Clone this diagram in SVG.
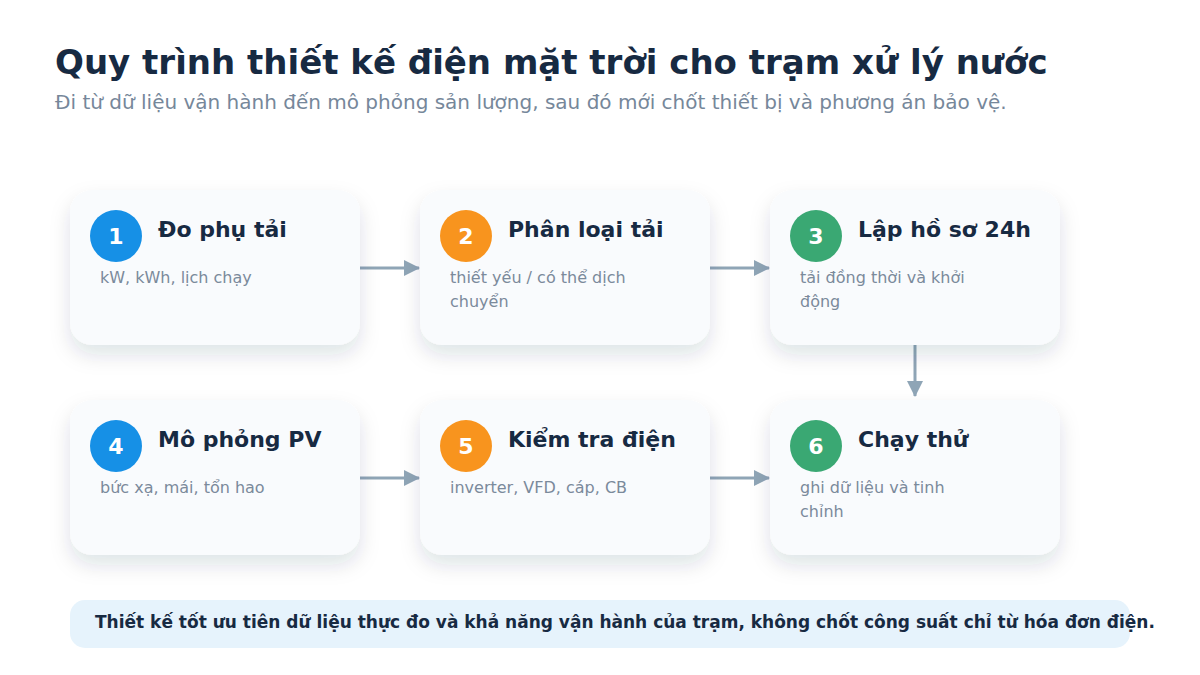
<svg xmlns="http://www.w3.org/2000/svg" width="1200" height="675" viewBox="0 0 1200 675">
<defs>
<filter id="sh" x="-20%" y="-20%" width="140%" height="160%">
<feDropShadow dx="0" dy="10" stdDeviation="10" flood-color="#0f2a44" flood-opacity="0.13"/>
</filter>
<marker id="ah2" markerWidth="16" markerHeight="16" refX="15" refY="8" orient="auto" markerUnits="userSpaceOnUse" viewBox="0 0 16 16">
<path d="M0,0 L16,8 L0,16 Z" fill="#8fa5b6"/>
</marker>
</defs>
<style>
.card{fill:#f9fbfd;filter:url(#sh);}
.num{font-family:"DejaVu Sans",sans-serif;font-weight:bold;font-size:22px;fill:#ffffff;text-anchor:middle;}
.ttl{font-family:"DejaVu Sans",sans-serif;font-weight:bold;font-size:22px;fill:#172a42;}
.dsc{font-family:"DejaVu Sans",sans-serif;font-size:16px;fill:#7b8a9b;}
.con{stroke:#8fa5b6;stroke-width:3;fill:none;}
</style>
<rect width="1200" height="675" fill="#ffffff"/>
<text x="55" y="74" font-family="DejaVu Sans, sans-serif" font-weight="bold" font-size="34" fill="#172a42">Quy trình thiết kế điện mặt trời cho trạm xử lý nước</text>
<text x="55" y="109" font-family="DejaVu Sans, sans-serif" font-size="20" fill="#76879a">Đi từ dữ liệu vận hành đến mô phỏng sản lượng, sau đó mới chốt thiết bị và phương án bảo vệ.</text>

<g id="connectors">
<line class="con" x1="360" y1="268" x2="419" y2="268" marker-end="url(#ah2)"/>
<line class="con" x1="710" y1="268" x2="769" y2="268" marker-end="url(#ah2)"/>
<line class="con" x1="915" y1="345" x2="915" y2="396" marker-end="url(#ah2)"/>
<line class="con" x1="360" y1="478" x2="419" y2="478" marker-end="url(#ah2)"/>
<line class="con" x1="710" y1="478" x2="769" y2="478" marker-end="url(#ah2)"/>
</g>

<g id="node1">
<rect class="card" x="70" y="190" width="290" height="155" rx="22"/>
<circle cx="116" cy="236" r="26" fill="#1690e6"/>
<text class="num" x="116" y="244">1</text>
<text class="ttl" x="158" y="237">Đo phụ tải</text>
<text class="dsc" x="100" y="283">kW, kWh, lịch chạy</text>
</g>
<g id="node2">
<rect class="card" x="420" y="190" width="290" height="155" rx="22"/>
<circle cx="466" cy="236" r="26" fill="#f8941e"/>
<text class="num" x="466" y="244">2</text>
<text class="ttl" x="508" y="237">Phân loại tải</text>
<text class="dsc" x="450" y="283">thiết yếu / có thể dịch</text>
<text class="dsc" x="450" y="307">chuyển</text>
</g>
<g id="node3">
<rect class="card" x="770" y="190" width="290" height="155" rx="22"/>
<circle cx="816" cy="236" r="26" fill="#3aa873"/>
<text class="num" x="816" y="244">3</text>
<text class="ttl" x="858" y="237">Lập hồ sơ 24h</text>
<text class="dsc" x="800" y="283">tải đồng thời và khởi</text>
<text class="dsc" x="800" y="307">động</text>
</g>
<g id="node4">
<rect class="card" x="70" y="400" width="290" height="155" rx="22"/>
<circle cx="116" cy="446" r="26" fill="#1690e6"/>
<text class="num" x="116" y="454">4</text>
<text class="ttl" x="158" y="447">Mô phỏng PV</text>
<text class="dsc" x="100" y="493">bức xạ, mái, tổn hao</text>
</g>
<g id="node5">
<rect class="card" x="420" y="400" width="290" height="155" rx="22"/>
<circle cx="466" cy="446" r="26" fill="#f8941e"/>
<text class="num" x="466" y="454">5</text>
<text class="ttl" x="508" y="447">Kiểm tra điện</text>
<text class="dsc" x="450" y="493">inverter, VFD, cáp, CB</text>
</g>
<g id="node6">
<rect class="card" x="770" y="400" width="290" height="155" rx="22"/>
<circle cx="816" cy="446" r="26" fill="#3aa873"/>
<text class="num" x="816" y="454">6</text>
<text class="ttl" x="858" y="447">Chạy thử</text>
<text class="dsc" x="800" y="493">ghi dữ liệu và tinh</text>
<text class="dsc" x="800" y="517">chỉnh</text>
</g>

<g id="note">
<rect x="70" y="600" width="1060" height="48" rx="15" fill="#e6f3fc"/>
<text x="95" y="628" font-family="DejaVu Sans, sans-serif" font-weight="bold" font-size="17" fill="#172a42">Thiết kế tốt ưu tiên dữ liệu thực đo và khả năng vận hành của trạm, không chốt công suất chỉ từ hóa đơn điện.</text>
</g>
</svg>
